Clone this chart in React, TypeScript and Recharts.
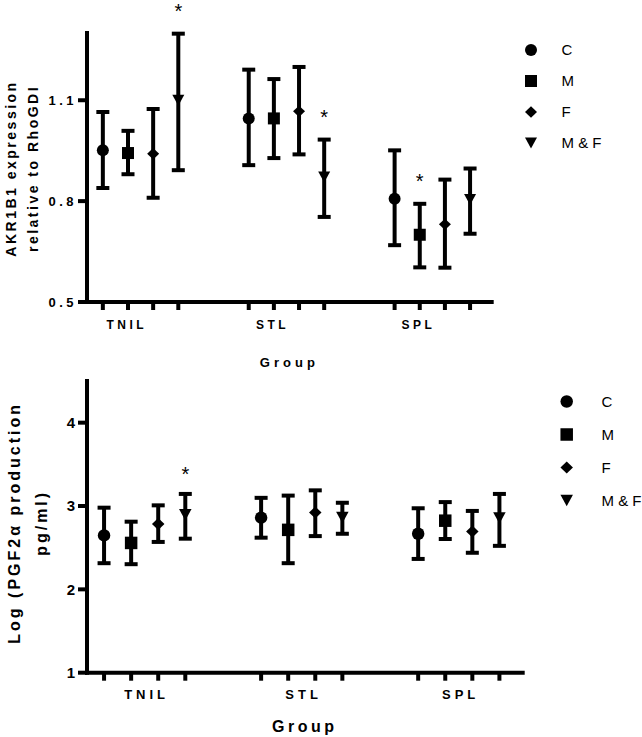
import React from 'react';
import { ScatterChart, Scatter, XAxis, YAxis, ErrorBar, ReferenceDot } from 'recharts';

const FONT = '"Liberation Sans", Arial, Helvetica, sans-serif';

// ---------- shared categories ----------
const groups = ['TNIL', 'STL', 'SPL'];
const seriesNames = ['C', 'M', 'F', 'M & F'];
const seriesShapes = ['circle', 'square', 'diamond', 'triangleDown'];

// ---------- top panel: AKR1B1 expression relative to RhoGDI ----------
const akrTicks = [0.5, 0.8, 1.1];
const akrMeanC = [0.951, 1.046, 0.807];
const akrLowC = [0.839, 0.907, 0.669];
const akrHighC = [1.065, 1.191, 0.951];
const akrMeanM = [0.943, 1.046, 0.7];
const akrLowM = [0.88, 0.928, 0.603];
const akrHighM = [1.009, 1.163, 0.792];
const akrMeanF = [0.941, 1.067, 0.731];
const akrLowF = [0.81, 0.939, 0.602];
const akrHighF = [1.074, 1.199, 0.864];
const akrMeanMF = [1.1, 0.872, 0.805];
const akrLowMF = [0.892, 0.753, 0.703];
const akrHighMF = [1.298, 0.983, 0.897];
// significant points: [group index, series index]
const akrStars = [[0, 3], [1, 3], [2, 1]];

// ---------- bottom panel: Log (PGF2α production pg/ml) ----------
const pgfTicks = [1, 2, 3, 4];
const pgfMeanC = [2.647, 2.86, 2.667];
const pgfLowC = [2.314, 2.62, 2.365];
const pgfHighC = [2.98, 3.098, 2.973];
const pgfMeanM = [2.557, 2.714, 2.824];
const pgfLowM = [2.302, 2.314, 2.604];
const pgfHighM = [2.812, 3.125, 3.047];
const pgfMeanF = [2.784, 2.922, 2.694];
const pgfLowF = [2.569, 2.639, 2.439];
const pgfHighF = [3.008, 3.188, 2.941];
const pgfMeanMF = [2.894, 2.863, 2.855];
const pgfLowMF = [2.608, 2.667, 2.522];
const pgfHighMF = [3.145, 3.039, 3.145];
const pgfStars = [[0, 3]];

// ---------- layout of the grouped x axis ----------
const GROUP_STRIDE = 5.8;
const X_DOMAIN: [number, number] = [-0.63, 15.46];
const slotPos = (g: number, s: number) => g * GROUP_STRIDE + s;
const slotTicks = groups.flatMap((_, g) => seriesNames.map((__, s) => slotPos(g, s)));

function buildSeries(means: number[][], lows: number[][], highs: number[][]) {
  return seriesNames.map((name, s) =>
    groups.map((g, gi) => ({
      x: slotPos(gi, s),
      y: means[s][gi],
      err: [means[s][gi] - lows[s][gi], highs[s][gi] - means[s][gi]],
      group: g,
      series: name,
    }))
  );
}

const akrSeries = buildSeries(
  [akrMeanC, akrMeanM, akrMeanF, akrMeanMF],
  [akrLowC, akrLowM, akrLowF, akrLowMF],
  [akrHighC, akrHighM, akrHighF, akrHighMF]
);
const pgfSeries = buildSeries(
  [pgfMeanC, pgfMeanM, pgfMeanF, pgfMeanMF],
  [pgfLowC, pgfLowM, pgfLowF, pgfLowMF],
  [pgfHighC, pgfHighM, pgfHighF, pgfHighMF]
);

function Marker({ shape, cx, cy, size }: { shape: string; cx: number; cy: number; size: number }) {
  const h = size / 2;
  if (cx == null || cy == null) return null;
  switch (shape) {
    case 'circle':
      return <circle cx={cx} cy={cy} r={h} fill="#000" />;
    case 'square':
      return <rect x={cx - h} y={cy - h} width={size} height={size} fill="#000" />;
    case 'diamond':
      return (
        <polygon
          points={`${cx},${cy - h * 0.95} ${cx + h},${cy} ${cx},${cy + h * 0.95} ${cx - h},${cy}`}
          fill="#000"
        />
      );
    default:
      return (
        <polygon
          points={`${cx - h},${cy - h * 0.92} ${cx + h},${cy - h * 0.92} ${cx},${cy + h * 0.92}`}
          fill="#000"
        />
      );
  }
}

type PanelCfg = {
  width: number;
  height: number;
  margin: { top: number; right: number; bottom: number; left: number };
  xHeight: number;
  yDomain: [number, number];
  yTicks: number[];
  yFmt: (v: number) => string;
  yTickFont: number;
  yTickSpacing: number;
  xTickFont: number;
  xTickSpacing: number;
  xTickDy: number;
  labelShift: number;
  titleFont: number;
  titleSpacing: number;
  titleDy: number;
  yLabelLines: string[];
  yLabelX: number[];
  yLabelFont: number;
  yLabelSpacing: number;
  yLabelDy: number;
  markerSize: number;
  starLift: number;
};

const near = (a: number, b: number) => Math.abs(a - b) < 1e-6;

function Panel({ cfg, series, stars, highs }: { cfg: PanelCfg; series: any[][]; stars: number[][]; highs: number[][] }) {
  const labelTicks = groups.map((_, g) => slotPos(g, cfg.labelShift));
  const allTicks = [...slotTicks, ...labelTicks].sort((a, b) => a - b);
  return (
    <ScatterChart width={cfg.width} height={cfg.height} margin={cfg.margin}>
      <XAxis
        type="number"
        dataKey="x"
        domain={X_DOMAIN}
        ticks={allTicks}
        interval={0}
        allowDataOverflow
        height={cfg.xHeight}
        tickSize={0}
        tickMargin={0}
        tickLine={false}
        axisLine={{ stroke: '#000', strokeWidth: 4, strokeLinecap: 'square' }}
        tick={(p: any) => {
          const v = p.payload.value;
          const gi = labelTicks.findIndex((t) => near(t, v));
          if (gi >= 0) {
            return (
              <text
                x={p.x}
                y={p.y + cfg.xTickDy}
                textAnchor="middle"
                fontFamily={FONT}
                fontWeight="bold"
                fontSize={cfg.xTickFont}
                fill="#000"
                style={{ letterSpacing: cfg.xTickSpacing }}
              >
                {groups[gi]}
              </text>
            );
          }
          return <line x1={p.x} x2={p.x} y1={p.y} y2={p.y + 8} stroke="#000" strokeWidth={4} />;
        }}
        label={(p: any) => {
          const vb = p.viewBox;
          return (
            <text
              x={vb.x + vb.width / 2}
              y={vb.y + cfg.titleDy}
              textAnchor="middle"
              fontFamily={FONT}
              fontWeight="bold"
              fontSize={cfg.titleFont}
              fill="#000"
              style={{ letterSpacing: cfg.titleSpacing }}
            >
              Group
            </text>
          );
        }}
      />
      <YAxis
        type="number"
        dataKey="y"
        domain={cfg.yDomain}
        ticks={cfg.yTicks}
        allowDataOverflow
        width={87}
        tickSize={9}
        tickMargin={1}
        tickLine={{ stroke: '#000', strokeWidth: 4 }}
        axisLine={{ stroke: '#000', strokeWidth: 4, strokeLinecap: 'square' }}
        tick={(p: any) => (
          <text
            x={p.x}
            y={p.y}
            dy="0.36em"
            textAnchor="end"
            fontFamily={FONT}
            fontWeight="bold"
            fontSize={cfg.yTickFont}
            fill="#000"
            style={{ letterSpacing: cfg.yTickSpacing }}
          >
            {cfg.yFmt(p.payload.value)}
          </text>
        )}
        label={(p: any) => {
          const vb = p.viewBox;
          const cy = vb.y + vb.height / 2 + cfg.yLabelDy;
          return (
            <g>
              {cfg.yLabelLines.map((line, i) => (
                <text
                  key={i}
                  x={cfg.yLabelX[i]}
                  y={cy}
                  transform={`rotate(-90, ${cfg.yLabelX[i]}, ${cy})`}
                  textAnchor="middle"
                  fontFamily={FONT}
                  fontWeight="bold"
                  fontSize={cfg.yLabelFont}
                  fill="#000"
                  style={{ letterSpacing: cfg.yLabelSpacing }}
                >
                  {line}
                </text>
              ))}
            </g>
          );
        }}
      />
      {series.map((pts, s) => (
        <Scatter
          key={seriesNames[s]}
          name={seriesNames[s]}
          data={pts}
          dataKey="y"
          fill="#000"
          isAnimationActive={false}
          shape={(p: any) => <Marker shape={seriesShapes[s]} cx={p.cx} cy={p.cy} size={cfg.markerSize} />}
        >
          <ErrorBar dataKey="err" direction="y" width={6.5} strokeWidth={4} stroke="#000" isAnimationActive={false} />
        </Scatter>
      ))}
      {stars.map(([g, s]) => (
        <ReferenceDot
          key={`star-${g}-${s}`}
          x={slotPos(g, s)}
          y={highs[s][g]}
          r={0}
          fill="none"
          stroke="none"
          ifOverflow="visible"
          label={(p: any) => (
            <text
              x={p.viewBox.x + (p.viewBox.width || 0) / 2}
              y={p.viewBox.y - cfg.starLift}
              textAnchor="middle"
              fontFamily={FONT}
              fontSize={20}
              fill="#000"
            >
              *
            </text>
          )}
        />
      ))}
    </ScatterChart>
  );
}

const topCfg: PanelCfg = {
  width: 642,
  height: 370,
  margin: { top: 33, right: 150.3, bottom: 0, left: 0 },
  xHeight: 68,
  yDomain: [0.5, 1.3],
  yTicks: akrTicks,
  yFmt: (v) => v.toFixed(1),
  yTickFont: 13,
  yTickSpacing: 3.5,
  xTickFont: 12,
  xTickSpacing: 3.5,
  xTickDy: 27,
  labelShift: 0.95,
  titleFont: 13,
  titleSpacing: 4,
  titleDy: 64.5,
  yLabelLines: ['AKR1B1 expression', 'relative to RhoGDI'],
  yLabelX: [15.5, 37.5],
  yLabelFont: 14,
  yLabelSpacing: 2.5,
  yLabelDy: 1,
  markerSize: 12,
  starLift: 16,
};

const bottomCfg: PanelCfg = {
  width: 642,
  height: 367,
  margin: { top: 11, right: 119.3, bottom: 0, left: 0 },
  xHeight: 64.3,
  yDomain: [1, 4.5],
  yTicks: pgfTicks,
  yFmt: (v) => String(v),
  yTickFont: 15,
  yTickSpacing: 2,
  xTickFont: 13,
  xTickSpacing: 4,
  xTickDy: 26.3,
  labelShift: 1.57,
  titleFont: 16,
  titleSpacing: 3.5,
  titleDy: 59,
  yLabelLines: ['Log (PGF2α production', 'pg/ml)'],
  yLabelX: [20, 47],
  yLabelFont: 16,
  yLabelSpacing: 3,
  yLabelDy: -4,
  markerSize: 12.5,
  starLift: 13,
};

function LegendSvg({ x, y, markerX, textX, step, size, font }: { x: number; y: number; markerX: number; textX: number; step: number; size: number; font: number }) {
  return (
    <g transform={`translate(${x}, ${y})`}>
      {seriesNames.map((name, i) => (
        <g key={name}>
          <Marker shape={seriesShapes[i]} cx={markerX} cy={i * step} size={size} />
          <text x={textX} y={i * step} dy="0.36em" fontFamily={FONT} fontSize={font} fill="#000">
            {name}
          </text>
        </g>
      ))}
    </g>
  );
}

export default function App() {
  return (
    <div style={{ position: 'absolute', left: 0, top: 0, width: 642, height: 737, background: '#fff' }}>
      <div style={{ position: 'absolute', left: 0, top: 0 }}>
        <Panel cfg={topCfg} series={akrSeries} stars={akrStars} highs={[akrHighC, akrHighM, akrHighF, akrHighMF]} />
      </div>
      <div style={{ position: 'absolute', left: 0, top: 370 }}>
        <Panel cfg={bottomCfg} series={pgfSeries} stars={pgfStars} highs={[pgfHighC, pgfHighM, pgfHighF, pgfHighMF]} />
      </div>
      <svg
        width={642}
        height={737}
        style={{ position: 'absolute', left: 0, top: 0, pointerEvents: 'none' }}
      >
        <LegendSvg x={0} y={50} markerX={531} textX={561.5} step={31} size={12} font={15} />
        <LegendSvg x={0} y={401.5} markerX={566.7} textX={601.5} step={33} size={12.5} font={15} />
      </svg>
    </div>
  );
}
